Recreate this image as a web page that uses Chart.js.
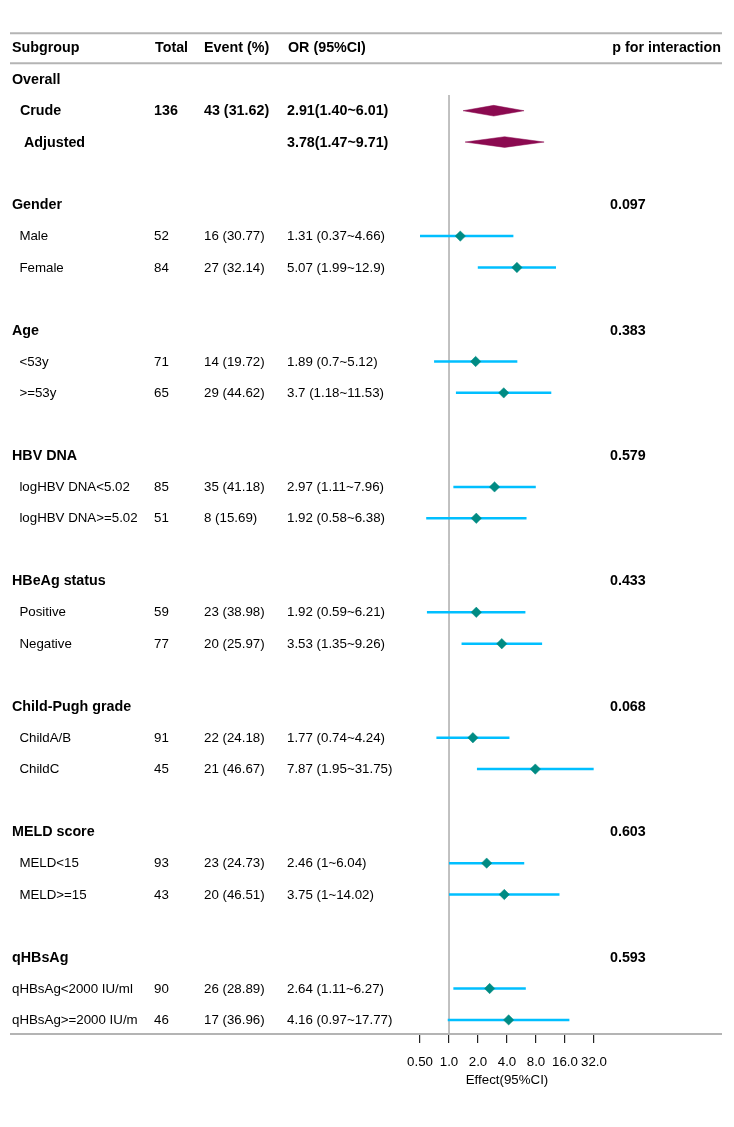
<!DOCTYPE html>
<html>
<head>
<meta charset="utf-8">
<script src="https://cdn.jsdelivr.net/npm/chart.js@4.4.1/dist/chart.umd.min.js"></script>
<style>
  html, body { margin: 0; padding: 0; background: #fff; }
  #wrap { width: 734px; height: 1127px; }
</style>
</head>
<body>
<div id="wrap"><canvas id="c" width="734" height="1127"></canvas></div>
<script>
// ---------------- DATA ----------------
const headers = ["Subgroup", "Total", "Event (%)", "OR (95%CI)", "p for interaction"];

const subgroups = [
  "Overall", "  Crude", "   Adjusted", "",
  "Gender", "  Male", "  Female", "",
  "Age", "  <53y", "  >=53y", "",
  "HBV DNA", "  logHBV DNA<5.02", "  logHBV DNA>=5.02", "",
  "HBeAg status", "  Positive", "  Negative", "",
  "Child-Pugh grade", "  ChildA/B", "  ChildC", "",
  "MELD score", "  MELD<15", "  MELD>=15", "",
  "qHBsAg", "qHBsAg<2000 IU/ml", "qHBsAg>=2000 IU/m"
];

const rowType = [
  "group", "overall", "overall", "blank",
  "group", "item", "item", "blank",
  "group", "item", "item", "blank",
  "group", "item", "item", "blank",
  "group", "item", "item", "blank",
  "group", "item", "item", "blank",
  "group", "item", "item", "blank",
  "group", "item", "item"
];

const totals = [
  "", "136", "", "",
  "", "52", "84", "",
  "", "71", "65", "",
  "", "85", "51", "",
  "", "59", "77", "",
  "", "91", "45", "",
  "", "93", "43", "",
  "", "90", "46"
];

const events = [
  "", "43 (31.62)", "", "",
  "", "16 (30.77)", "27 (32.14)", "",
  "", "14 (19.72)", "29 (44.62)", "",
  "", "35 (41.18)", "8 (15.69)", "",
  "", "23 (38.98)", "20 (25.97)", "",
  "", "22 (24.18)", "21 (46.67)", "",
  "", "23 (24.73)", "20 (46.51)", "",
  "", "26 (28.89)", "17 (36.96)"
];

const orText = [
  "", "2.91(1.40~6.01)", "3.78(1.47~9.71)", "",
  "", "1.31 (0.37~4.66)", "5.07 (1.99~12.9)", "",
  "", "1.89 (0.7~5.12)", "3.7 (1.18~11.53)", "",
  "", "2.97 (1.11~7.96)", "1.92 (0.58~6.38)", "",
  "", "1.92 (0.59~6.21)", "3.53 (1.35~9.26)", "",
  "", "1.77 (0.74~4.24)", "7.87 (1.95~31.75)", "",
  "", "2.46 (1~6.04)", "3.75 (1~14.02)", "",
  "", "2.64 (1.11~6.27)", "4.16 (0.97~17.77)"
];

const pInteraction = [
  "", "", "", "",
  "0.097", "", "", "",
  "0.383", "", "", "",
  "0.579", "", "", "",
  "0.433", "", "", "",
  "0.068", "", "", "",
  "0.603", "", "", "",
  "0.593", "", ""
];

const est = [null, 2.91, 3.78, null, null, 1.31, 5.07, null, null, 1.89, 3.7, null, null, 2.97, 1.92, null,
             null, 1.92, 3.53, null, null, 1.77, 7.87, null, null, 2.46, 3.75, null, null, 2.64, 4.16];
const lower = [null, 1.40, 1.47, null, null, 0.37, 1.99, null, null, 0.7, 1.18, null, null, 1.11, 0.58, null,
               null, 0.59, 1.35, null, null, 0.74, 1.95, null, null, 1, 1, null, null, 1.11, 0.97];
const upper = [null, 6.01, 9.71, null, null, 4.66, 12.9, null, null, 5.12, 11.53, null, null, 7.96, 6.38, null,
               null, 6.21, 9.26, null, null, 4.24, 31.75, null, null, 6.04, 14.02, null, null, 6.27, 17.77];

const tickValues = [0.5, 1, 2, 4, 8, 16, 32];
const tickLabels = ["0.50", "1.0", "2.0", "4.0", "8.0", "16.0", "32.0"];
const axisTitle = "Effect(95%CI)";
const refValue = 1;

// ---------------- STYLE ----------------
const FONT = "'Liberation Sans', Arial, Helvetica, sans-serif";
const BOLD = "bold 14.3px " + FONT;
const REG = "13.3px " + FONT;
const C_CI = "#00BFFF";
const C_PT = "#008B83";
const C_OV = "#8B0A50";
const C_RULE = "#b4b4b4";
const C_REF = "#b8b8b8";
const DIAMOND_HALF = 0.17;   // half height of summary diamond in row units

// row index (y value) for data row k is k+1; header is row 0
const rowY = k => k + 1;

// ---------------- DATASETS ----------------
const datasets = [];

// point estimates (drawn on top -> first)
const ptData = [];
rowType.forEach((t, k) => { if (t === "item") ptData.push({ x: est[k], y: rowY(k) }); });
datasets.push({
  type: "scatter", data: ptData, pointStyle: "rectRot", pointRadius: 5.2,
  backgroundColor: C_PT, borderColor: C_PT, borderWidth: 0.5, showLine: false
});

// CI lines
rowType.forEach((t, k) => {
  if (t !== "item") return;
  datasets.push({
    type: "line", data: [{ x: lower[k], y: rowY(k) }, { x: upper[k], y: rowY(k) }],
    borderColor: C_CI, borderWidth: 2.5, pointRadius: 0, fill: false, tension: 0
  });
});

// summary diamonds (upper outline filled to lower outline)
rowType.forEach((t, k) => {
  if (t !== "overall") return;
  const y = rowY(k);
  datasets.push({
    type: "line",
    data: [{ x: lower[k], y: y }, { x: est[k], y: y - DIAMOND_HALF }, { x: upper[k], y: y }],
    borderColor: C_OV, borderWidth: 0.5, pointRadius: 0, tension: 0,
    fill: "+1", backgroundColor: C_OV
  });
  datasets.push({
    type: "line",
    data: [{ x: lower[k], y: y }, { x: est[k], y: y + DIAMOND_HALF }, { x: upper[k], y: y }],
    borderColor: C_OV, borderWidth: 0.5, pointRadius: 0, tension: 0, fill: false
  });
});

// reference line at OR = 1
const Y_BOTTOM = 31.45;
datasets.push({
  type: "line", data: [{ x: refValue, y: 1.5 }, { x: refValue, y: Y_BOTTOM }],
  borderColor: C_REF, borderWidth: 1, pointRadius: 0, fill: false
});

// ---------------- TABLE PLUGIN ----------------
const tablePlugin = {
  id: "forestTable",
  afterDraw(chart) {
    const ctx = chart.ctx;
    const ys = chart.scales.y;
    const area = chart.chartArea;
    ctx.save();

    // rules
    ctx.strokeStyle = C_RULE;
    ctx.lineWidth = 2;
    const rules = [ys.getPixelForValue(-0.47), ys.getPixelForValue(0.49), area.bottom];
    rules.forEach(py => {
      ctx.beginPath(); ctx.moveTo(10, py); ctx.lineTo(722, py); ctx.stroke();
    });

    ctx.fillStyle = "#000";
    ctx.textBaseline = "middle";

    // header
    const hy = ys.getPixelForValue(0) + 0.5;
    ctx.font = BOLD;
    ctx.textAlign = "left";
    ctx.fillText(headers[0], 12, hy);
    ctx.fillText(headers[1], 155, hy);
    ctx.fillText(headers[2], 204, hy);
    ctx.fillText(headers[3], 288, hy);
    ctx.textAlign = "right";
    ctx.fillText(headers[4], 721, hy);

    // rows
    subgroups.forEach((lab, k) => {
      const t = rowType[k];
      if (t === "blank") return;
      const py = ys.getPixelForValue(rowY(k)) + 0.5;
      const bold = (t === "group" || t === "overall");
      ctx.font = bold ? BOLD : REG;
      ctx.textAlign = "left";
      ctx.fillText(lab, 12, py);
      if (totals[k]) ctx.fillText(totals[k], 154, py);
      if (events[k]) ctx.fillText(events[k], 204, py);
      if (orText[k]) ctx.fillText(orText[k], 287, py);
      if (pInteraction[k]) {
        ctx.font = BOLD;
        ctx.fillText(pInteraction[k], 610, py);
      }
    });

    // axis title
    ctx.font = REG;
    ctx.textAlign = "center";
    ctx.fillText(axisTitle, (area.left + area.right) / 2, 1080);
    ctx.restore();
  }
};

// ---------------- CHART ----------------
new Chart(document.getElementById("c"), {
  type: "scatter",
  data: { datasets: datasets },
  plugins: [tablePlugin],
  options: {
    responsive: false,
    animation: false,
    events: [],
    layout: { padding: { left: 420, right: 140, top: 16.65, bottom: 0 } },
    plugins: { legend: { display: false }, tooltip: { enabled: false }, title: { display: false } },
    scales: {
      x: {
        type: "logarithmic",
        min: 0.5, max: 32,
        afterBuildTicks: s => { s.ticks = tickValues.map(v => ({ value: v })); },
        afterFit: s => { s.height = 93; },
        ticks: {
          autoSkip: false, maxRotation: 0, minRotation: 0, padding: 11,
          color: "#000", font: { family: FONT, size: 13.3 },
          callback: (v, i) => tickLabels[i]
        },
        grid: { drawOnChartArea: false, drawTicks: true, tickLength: 9, color: "#222", lineWidth: 1.2 },
        border: { display: false }
      },
      y: {
        type: "linear", reverse: true, min: -1, max: Y_BOTTOM, display: false
      }
    }
  }
});
</script>
</body>
</html>
